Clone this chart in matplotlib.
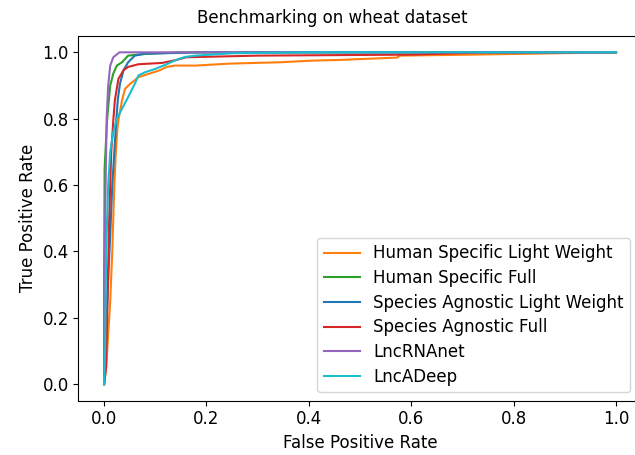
import matplotlib
matplotlib.use("Agg")
import matplotlib.pyplot as plt

plt.rcParams["font.size"] = 12

# ROC curves (fpr, tpr)
hs_light_fpr = [0, 0.004, 0.008, 0.012, 0.016, 0.018, 0.02, 0.023, 0.026, 0.028, 0.035, 0.041,
                0.051, 0.067, 0.087, 0.109, 0.122, 0.139, 0.178, 0.246, 0.344, 0.408, 0.46,
                0.49, 0.572, 0.578, 0.72, 1.0]
hs_light_tpr = [0, 0.05, 0.15, 0.25, 0.4, 0.5, 0.6, 0.7, 0.77, 0.795, 0.855, 0.89,
                0.905, 0.925, 0.935, 0.946, 0.956, 0.96, 0.96, 0.966, 0.97, 0.975, 0.977,
                0.979, 0.984, 0.99, 0.993, 1.0]

hs_full_fpr = [0, 0, 0.001, 0.006, 0.012, 0.018, 0.025, 0.035, 0.047, 0.08, 0.15, 1.0]
hs_full_tpr = [0, 0.3, 0.65, 0.8, 0.9, 0.936, 0.96, 0.97, 0.99, 0.995, 1.0, 1.0]

sa_light_fpr = [0, 0.003, 0.005, 0.009, 0.012, 0.016, 0.02, 0.024, 0.027, 0.031, 0.038, 0.047,
                0.06, 0.08, 0.2, 1.0]
sa_light_tpr = [0, 0.1, 0.2, 0.35, 0.45, 0.6, 0.7, 0.8, 0.86, 0.905, 0.946, 0.97,
                0.99, 0.996, 1.0, 1.0]

sa_full_fpr = [0, 0.004, 0.006, 0.01, 0.014, 0.018, 0.021, 0.028, 0.038, 0.047, 0.067, 0.113,
               0.139, 0.16, 0.3, 0.6, 0.75, 1.0]
sa_full_tpr = [0, 0.05, 0.2, 0.5, 0.7, 0.795, 0.855, 0.92, 0.946, 0.956, 0.964, 0.968,
               0.976, 0.985, 0.99, 0.993, 1.0, 1.0]

lncrnanet_fpr = [0, 0.002, 0.005, 0.008, 0.012, 0.018, 0.03, 1.0]
lncrnanet_tpr = [0, 0.5, 0.8, 0.9, 0.96, 0.985, 1.0, 1.0]

lncadeep_fpr = [0, 0.002, 0.004, 0.008, 0.012, 0.018, 0.025, 0.035, 0.047, 0.06, 0.067, 0.08,
                0.1, 0.122, 0.139, 0.158, 0.178, 0.25, 0.4, 1.0]
lncadeep_tpr = [0, 0.1, 0.4, 0.6, 0.7, 0.76, 0.8, 0.83, 0.865, 0.905, 0.93, 0.94,
                0.95, 0.964, 0.976, 0.986, 0.99, 0.997, 1.0, 1.0]

curves = [
    ("Human Specific Light Weight", hs_light_fpr, hs_light_tpr, "tab:orange"),
    ("Human Specific Full", hs_full_fpr, hs_full_tpr, "tab:green"),
    ("Species Agnostic Light Weight", sa_light_fpr, sa_light_tpr, "tab:blue"),
    ("Species Agnostic Full", sa_full_fpr, sa_full_tpr, "tab:red"),
    ("LncRNAnet", lncrnanet_fpr, lncrnanet_tpr, "tab:purple"),
    ("LncADeep", lncadeep_fpr, lncadeep_tpr, "tab:cyan"),
]

fig = plt.figure(figsize=(6.35, 4.55), dpi=100)
# the original image is cropped on the right, so the axes run past the edge
ax = fig.add_axes([0.1236, 0.1193, 0.8868, 0.8022])

for label, fpr, tpr, color in curves:
    ax.plot(fpr, tpr, color=color, label=label)

# title sits left of the axes centre in the cropped original
ax.set_title("Benchmarking on wheat dataset", fontsize=12, x=0.45, pad=9)
ax.set_xlabel("False Positive Rate")
ax.set_ylabel("True Positive Rate")
ax.legend(loc="lower right", bbox_to_anchor=(0.995, 0), labelspacing=0.4,
          handlelength=2.15)

fig.savefig("out.png", dpi=100)
